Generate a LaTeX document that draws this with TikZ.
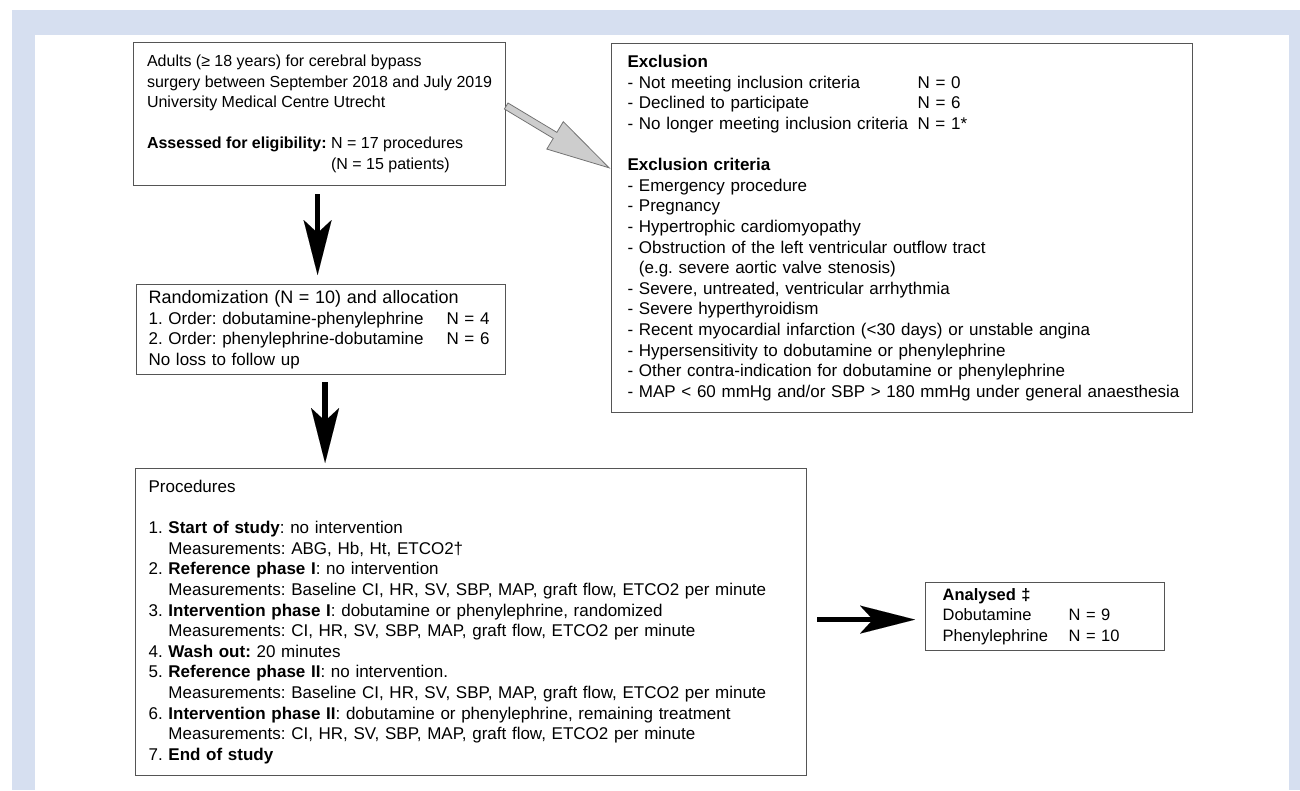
\documentclass[tikz,border=0pt]{standalone}
\usepackage{fontspec}
\setmainfont{Liberation Sans}
\usepackage{tikz}
\usetikzlibrary{arrows.meta,calc}
\frenchspacing
\definecolor{bgblue}{RGB}{214,223,240}
\definecolor{boxgrey}{RGB}{85,85,85}
\definecolor{arrowfill}{RGB}{205,205,205}
\definecolor{arrowline}{RGB}{115,115,115}

\begin{document}
\begin{tikzpicture}[x=1pt, y=-1pt,
    box/.style={draw=boxgrey, line width=1.2pt, fill=white, anchor=north west,
                align=left, inner ysep=0pt, font=\fontsize{17}{20.6}\selectfont},
    bigarrow/.style={line width=5.5pt,
                     -{Stealth[length=55pt, width=28pt, inset=13pt, line width=0.01pt]}},
    greyarrow/.style={draw=arrowline, fill=arrowfill, line width=0.8pt, line join=miter}]
  \useasboundingbox (0,0) rectangle (1300,790);
  \fill[bgblue] (12,10) rectangle (1300,790);
  \fill[white] (35,35) rectangle (1289,790);

  \node[box, minimum width=372pt, minimum height=143pt, font=\fontsize{16}{20.5}\selectfont] (assess) at (133,42)
    {Adults (≥ 18 years) for cerebral bypass\\
     surgery between September 2018 and July 2019\\
     University Medical Centre Utrecht\\[20.5pt]
     \textbf{Assessed for eligibility:} N = 17 procedures\\
     \hphantom{\textbf{Assessed for eligibility:} }(N = 15 patients)};
  \node[box, minimum width=581pt, minimum height=369pt, inner xsep=16pt, text width=549pt] (excl) at (611,43)
    {\textbf{Exclusion}\\
     \makebox[290pt][l]{- Not meeting inclusion criteria}N = 0\\
     \makebox[290pt][l]{- Declined to participate}N = 6\\
     \makebox[290pt][l]{- No longer meeting inclusion criteria}N = 1*\\[20.6pt]
     \textbf{Exclusion criteria}\\
     - Emergency procedure\\
     - Pregnancy\\
     - Hypertrophic cardiomyopathy\\
     - Obstruction of the left ventricular outflow tract\\
     \hphantom{- }(e.g. severe aortic valve stenosis)\\
     - Severe, untreated, ventricular arrhythmia\\
     - Severe hyperthyroidism\\
     - Recent myocardial infarction (<30 days) or unstable angina\\
     - Hypersensitivity to dobutamine or phenylephrine\\
     - Other contra-indication for dobutamine or phenylephrine\\
     \mbox{- MAP < 60 mmHg and/or SBP > 180 mmHg under general anaesthesia}};
  \node[box, minimum width=369pt, minimum height=90pt, inner xsep=12pt, text width=345pt] (random) at (136,284)
    {{\fontsize{18}{20.5}\selectfont Randomization (N = 10) and allocation}\\
     \makebox[298pt][l]{1. Order: dobutamine-phenylephrine}N = 4\\
     \makebox[298pt][l]{2. Order: phenylephrine-dobutamine}N = 6\\
     No loss to follow up};
  \node[box, minimum width=671pt, minimum height=307pt, inner xsep=13pt, text width=645pt] (proc) at (135,468)
    {Procedures\\[20.5pt]
     1. \textbf{Start of study}: no intervention\\
     \hphantom{1. }Measurements: ABG, Hb, Ht, ETCO2†\\
     2. \textbf{Reference phase I}: no intervention\\
     \hphantom{2. }Measurements: Baseline CI, HR, SV, SBP, MAP, graft flow, ETCO2 per minute\\
     3. \textbf{Intervention phase I}: dobutamine or phenylephrine, randomized\\
     \hphantom{3. }Measurements: CI, HR, SV, SBP, MAP, graft flow, ETCO2 per minute\\
     4. \textbf{Wash out:} 20 minutes\\
     5. \textbf{Reference phase II}: no intervention.\\
     \hphantom{5. }Measurements: Baseline CI, HR, SV, SBP, MAP, graft flow, ETCO2 per minute\\
     6. \textbf{Intervention phase II}: dobutamine or phenylephrine, remaining treatment\\
     \hphantom{6. }Measurements: CI, HR, SV, SBP, MAP, graft flow, ETCO2 per minute\\
     7. \textbf{End of study}};
  \node[box, minimum width=239pt, minimum height=68pt, inner xsep=17pt, text width=205pt,
        font=\fontsize{16.5}{20.5}\selectfont] (analysed) at (925,582)
    {\textbf{Analysed ‡}\\
     \makebox[126pt][l]{Dobutamine}N = 9\\
     \makebox[126pt][l]{Phenylephrine}N = 10};

  \draw[bigarrow, shorten <=8pt, shorten >=9pt] ([xshift=-2pt]assess.south) -- ([xshift=-2pt]assess.south |- random.north);
  \draw[bigarrow, shorten <=7pt, shorten >=5pt] ([xshift=4pt]random.south) -- ([xshift=4pt]random.south |- proc.north);
  \draw[bigarrow, shorten <=10pt, shorten >=10pt] ([yshift=-3pt]analysed.west -| proc.east) -- ([yshift=-3pt]analysed.west);

  \coordinate (gstart) at ($(assess.north east)+(0,64)$);
  \begin{scope}[shift={(gstart)}, rotate=-31]
    \draw[greyarrow] (0,-3.5) -- (57,-3.5) -- (57,-16) -- (120,0) -- (57,16) -- (57,3.5) -- (0,3.5) -- cycle;
  \end{scope}
\end{tikzpicture}
\end{document}
